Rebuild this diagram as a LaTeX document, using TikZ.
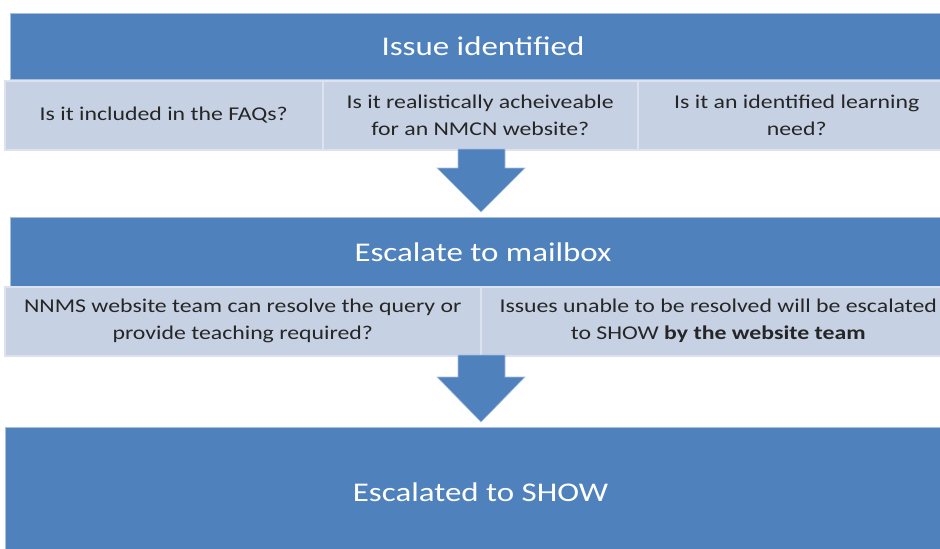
\documentclass[tikz,border=0pt]{standalone}
\usepackage{fontspec}
\setmainfont{Carlito}[FakeStretch=1.22]
\definecolor{bandblue}{HTML}{4F81BD}
\definecolor{cellfill}{HTML}{C6D1E3}
\definecolor{cellrule}{HTML}{DCE2EE}
\definecolor{bandrule}{HTML}{A9BFDD}
\begin{document}
\begin{tikzpicture}[x=1pt,y=-1pt,
  band/.style={fill=bandblue, draw=bandrule, line width=1pt, inner sep=0pt,
    anchor=north west, text=white, font=\fontsize{27}{32}\selectfont},
  cellbox/.style={fill=cellfill, draw=cellrule, line width=1.5pt, inner sep=0pt,
    anchor=north west, align=center, text=black!85,
    font=\fontsize{19.5}{27}\selectfont},
  flow/.style={fill=bandblue, draw=bandrule, line width=0.6pt, line join=miter}]
\useasboundingbox (0,0) rectangle (940,549);

% first stage: banner and three questions
\node[band, minimum width=945pt, minimum height=66pt] (issue) at (10,13) {Issue identified};
\node[cellbox, minimum width=318pt, minimum height=69pt] (faq) at (4,80)
  {Is it included in the FAQs?};
\node[cellbox, minimum width=315pt, minimum height=69pt] (real) at (322,80)
  {Is it realistically acheiveable\\for an NMCN website?};
\node[cellbox, minimum width=318pt, minimum height=69pt] (learn) at (637,80)
  {Is it an identified learning\\need?};

% second stage: mailbox banner and two outcomes
\node[band, minimum width=945pt, minimum height=69pt] (mail) at (10,217) {Escalate to mailbox};
\node[cellbox, minimum width=476pt, minimum height=69pt] (resolve) at (4,286)
  {NNMS website team can resolve the query or\\provide teaching required?};
\node[cellbox, minimum width=475pt, minimum height=69pt] (unres) at (480,286)
  {Issues unable to be resolved will be escalated\\to SHOW \textbf{by the website team}};

% final stage
\node[band, minimum width=950pt, minimum height=130pt] (show) at (5,427) {Escalated to SHOW};

% block arrows between the stages
\coordinate (a1top) at (481,149);
\coordinate (a1tip) at (481,212);
\fill[flow] ([xshift=-23pt]a1top) -- ([xshift=-23pt]a1top |- 0,168) -- (437,168)
  -- (a1tip) -- (525,168) -- ([xshift=24pt]a1top |- 0,168) -- ([xshift=24pt]a1top) -- cycle;

\coordinate (a2top) at (481,355);
\coordinate (a2tip) at (481,422);
\fill[flow] ([xshift=-23pt]a2top) -- ([xshift=-23pt]a2top |- 0,377) -- (437,377)
  -- (a2tip) -- (525,377) -- ([xshift=24pt]a2top |- 0,377) -- ([xshift=24pt]a2top) -- cycle;
\end{tikzpicture}
\end{document}
